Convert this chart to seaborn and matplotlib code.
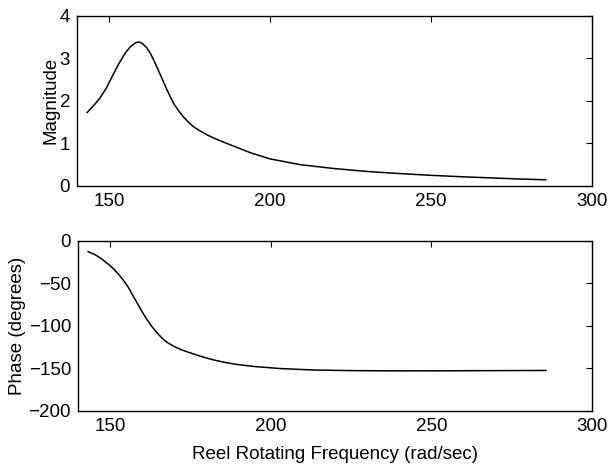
import matplotlib
matplotlib.use("Agg")
import matplotlib.pyplot as plt
import seaborn as sns
import pandas as pd

# Frequency response of the reel drive
mag_freq = [143.1, 145.0, 147.0, 149.0, 151.0, 153.0, 155.0, 156.5, 157.3, 158.0,
            158.6, 159.2, 159.9, 160.5, 161.7, 162.8, 163.8, 165.9, 168.0, 170.0,
            171.5, 173.1, 174.6, 176.2, 178.3, 180.4, 182.5, 184.5, 188.7, 193.9,
            200.0, 209.4, 219.8, 230.2, 240.5, 250.0, 260.0, 268.6, 277.0, 285.7]
magnitude = [1.72, 1.87, 2.05, 2.28, 2.58, 2.87, 3.12, 3.26, 3.31, 3.35,
             3.37, 3.38, 3.36, 3.33, 3.24, 3.11, 2.96, 2.61, 2.25, 1.94,
             1.77, 1.62, 1.50, 1.39, 1.29, 1.20, 1.125, 1.06, 0.935, 0.78,
             0.635, 0.50, 0.41, 0.34, 0.29, 0.25, 0.215, 0.19, 0.165, 0.145]

phase_freq = [143.1, 145.5, 147.5, 149.5, 151.0, 152.5, 154.0, 155.5, 157.0, 158.5,
              160.0, 161.5, 163.0, 164.5, 166.0, 167.5, 169.0, 170.5, 172.5, 175.0,
              177.5, 180.0, 182.5, 186.0, 190.0, 195.0, 203.0, 213.5, 225.0, 240.0,
              255.0, 270.0, 285.7]
phase = [-13.0, -17.0, -22.0, -28.0, -33.0, -39.0, -46.0, -54.0, -64.0, -74.0,
         -84.0, -93.0, -101.0, -108.0, -114.0, -119.0, -122.5, -125.5, -128.8, -132.0,
         -135.2, -138.0, -140.5, -143.4, -145.8, -148.0, -150.4, -152.1, -152.8, -153.1,
         -153.0, -152.8, -152.6]

x_ticks = [150, 200, 250, 300]
mag_ticks = [0, 1, 2, 3, 4]
phase_ticks = [-200, -150, -100, -50, 0]

sns.set_style("white")
plt.rcParams["font.family"] = ["Liberation Sans", "DejaVu Sans"]
plt.rcParams.update({
    "font.size": 13.5,
    "text.color": "black",
    "axes.labelcolor": "black",
    "xtick.color": "black",
    "ytick.color": "black",
})

fig = plt.figure(figsize=(6.08, 4.73), dpi=100)
ax1 = fig.add_axes([0.1266, 0.6068, 0.8471, 0.3604])
ax2 = fig.add_axes([0.1283, 0.1315, 0.8454, 0.3600])

mag_df = pd.DataFrame({"freq": mag_freq, "mag": magnitude})
ph_df = pd.DataFrame({"freq": phase_freq, "phase": phase})

sns.lineplot(data=mag_df, x="freq", y="mag", color="black", lw=1.1, ax=ax1)
sns.lineplot(data=ph_df, x="freq", y="phase", color="black", lw=1.1, ax=ax2)

for ax, yt in ((ax1, mag_ticks), (ax2, phase_ticks)):
    ax.set_xlim(140, 300)
    ax.set_ylim(yt[0], yt[-1])
    ax.set_xticks(x_ticks)
    ax.set_yticks(yt)
    ax.tick_params(direction="in", top=True, right=True, length=4,
                   width=0.8, labelsize=13.5, pad=5)
    for s in ax.spines.values():
        s.set_color("black")
        s.set_linewidth(1.0)
    ax.set_xlabel("")

ax1.set_yticklabels([str(v) for v in mag_ticks])
ax2.set_yticklabels([str(v).replace("-", "\u2212") for v in phase_ticks])

ax1.set_ylabel("Magnitude", fontsize=13.5, labelpad=0)
ax2.set_ylabel("Phase (degrees)", fontsize=13.5, labelpad=2)
ax2.set_xlabel("Reel Rotating Frequency (rad/sec)", fontsize=13.5, labelpad=8)

fig.savefig("out.png", dpi=100, facecolor="white")
